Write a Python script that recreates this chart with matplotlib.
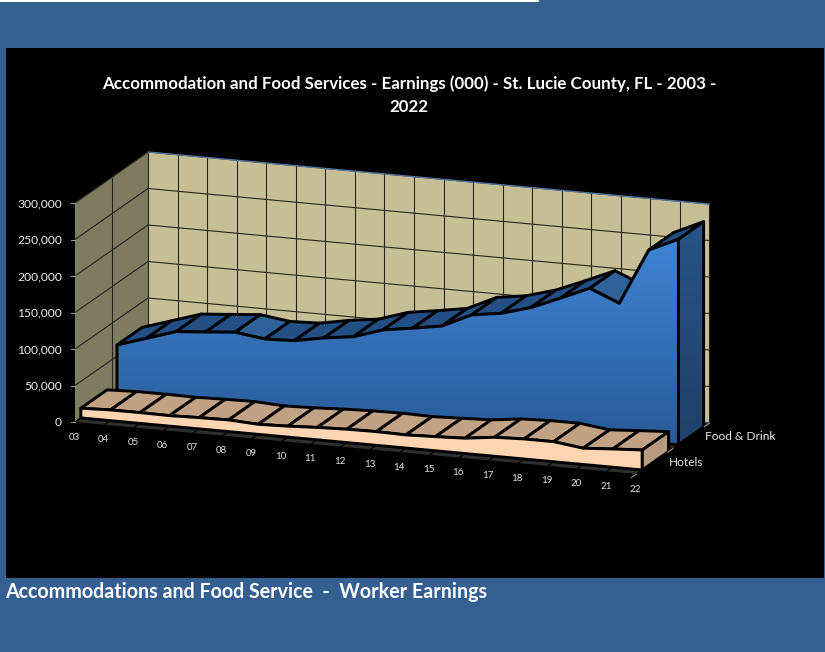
import numpy as np
import matplotlib
matplotlib.use('Agg')
import matplotlib.pyplot as plt
from matplotlib.colors import LinearSegmentedColormap
from matplotlib.patches import Polygon, Rectangle

# earnings in thousands of dollars
years = ['03', '04', '05', '06', '07', '08', '09', '10', '11', '12',
         '13', '14', '15', '16', '17', '18', '19', '20', '21', '22']
food_drink = [65.3, 78.2, 91.1, 94.4, 97.8, 92.3, 93.7, 101.2, 106.7, 119.7,
              125.8, 132.6, 151.5, 157.5, 169.0, 185.6, 203.0, 186.3, 263.0, 281.5]
hotels = [13.3, 14.7, 14.8, 14.4, 15.4, 16.0, 13.8, 15.0, 17.0, 18.3,
          18.8, 18.0, 19.4, 21.0, 26.0, 27.5, 27.5, 22.3, 25.0, 27.4]
value_ticks = [0, 50, 100, 150, 200, 250, 300]
series_names = ['Hotels', 'Food & Drink']

plt.rcParams['font.family'] = ['Lato', 'DejaVu Sans']

# oblique projection used by the 3d chart box, results are in pixels
ORIGIN = np.array([75.0, 422.0])
CAT_STEP = np.array([29.55, 2.74])
DEPTH_VEC = np.array([73.0, -51.0])
PX_PER_K = 0.73
EDGE_LW = 2.1


def project(cat, value, depth):
    x = ORIGIN[0] + cat * CAT_STEP[0] + depth * DEPTH_VEC[0]
    y = ORIGIN[1] + cat * CAT_STEP[1] + depth * DEPTH_VEC[1] - value * PX_PER_K
    return x, y


fig = plt.figure(figsize=(8.25, 6.52), dpi=100, facecolor='#365f91')
ax = fig.add_axes([0, 0, 1, 1])
ax.axis('off')

ax.add_patch(Rectangle((0, 0), 539, 1.5, fc='white', ec='none'))
ax.add_patch(Rectangle((6, 48), 818, 530, fc='black', ec='none'))

last = len(years) - 1
top = value_ticks[-1]

# walls and floor
ax.add_patch(Polygon([project(0, 0, 1), project(last, 0, 1), project(last, top, 1), project(0, top, 1)],
                     closed=True, fc='#c6bf95', ec='none', zorder=1))
ax.add_patch(Polygon([project(0, 0, 0), project(0, 0, 1), project(0, top, 1), project(0, top, 0)],
                     closed=True, fc='#7f7b60', ec='none', zorder=1))
ax.add_patch(Polygon([project(0, 0, 0), project(last, 0, 0), project(last, 0, 1), project(0, 0, 1)],
                     closed=True, fc='#2e2e2e', ec='none', zorder=1))

# gridlines
for v in value_ticks:
    xs, ys = zip(project(0, v, 0), project(0, v, 1), project(last, v, 1))
    ax.plot(xs, ys, color='#24241c', lw=0.8, zorder=2)
for i in range(last + 1):
    xs, ys = zip(project(i, 0, 1), project(i, top, 1))
    ax.plot(xs, ys, color='#24241c', lw=0.8, zorder=2)
    xs, ys = zip(project(i, 0, 0), project(i, 0, 1))
    ax.plot(xs, ys, color='black', lw=0.9, zorder=2)
xs, ys = zip(project(0, 0, 0.5), project(0, top, 0.5))
ax.plot(xs, ys, color='#24241c', lw=0.8, zorder=2)
xs, ys = zip(project(0, 0, 0.5), project(last, 0, 0.5))
ax.plot(xs, ys, color='black', lw=0.9, zorder=2)
xs, ys = zip(project(0, top, 1), project(last, top, 1))
ax.plot(xs, ys, color='#4f78ab', lw=0.9, zorder=2)

blue_map = LinearSegmentedColormap.from_list('front_blue', ['#4084d4', '#285a97'])
side_map = LinearSegmentedColormap.from_list('side_blue', ['#285487', '#1f4068'])


def gradient_poly(points, cmap, zorder):
    pts = np.array(points)
    poly = Polygon(pts, closed=True, fc='none', ec='none', zorder=zorder)
    ax.add_patch(poly)
    img = ax.imshow(np.linspace(0, 1, 256).reshape(-1, 1), cmap=cmap, aspect='auto',
                    extent=(pts[:, 0].min(), pts[:, 0].max(), pts[:, 1].max(), pts[:, 1].min()),
                    zorder=zorder)
    img.set_clip_path(poly)
    ax.add_patch(Polygon(pts, closed=True, fc='none', ec='black', lw=EDGE_LW, joinstyle='round', zorder=zorder + 0.1))


def top_faces(values, d_front, d_back, up_color, down_color, zorder):
    # the front face drawn afterwards hides whatever falls behind it
    for i in range(len(values) - 1):
        quad = [project(i, values[i], d_front), project(i + 1, values[i + 1], d_front),
                project(i + 1, values[i + 1], d_back), project(i, values[i], d_back)]
        color = up_color if values[i + 1] >= values[i] - 1 else down_color
        ax.add_patch(Polygon(quad, closed=True, fc=color, ec='black', lw=EDGE_LW, joinstyle='round', zorder=zorder))


def front_outline(values, depth):
    pts = [project(i, values[i], depth) for i in range(len(values))]
    return pts + [project(len(values) - 1, 0, depth), project(0, 0, depth)]


def side_outline(values, d_front, d_back):
    n = len(values) - 1
    return [project(n, values[-1], d_front), project(n, values[-1], d_back),
            project(n, 0, d_back), project(n, 0, d_front)]


# food & drink sits behind hotels
top_faces(food_drink, 0.575, 0.92, '#234f85', '#2f6299', 3)
gradient_poly(front_outline(food_drink, 0.575), blue_map, 4)
gradient_poly(side_outline(food_drink, 0.575, 0.92), side_map, 4)

top_faces(hotels, 0.08, 0.44, '#c2a284', '#c2a284', 5)
ax.add_patch(Polygon(front_outline(hotels, 0.08), closed=True, fc='#fdd5b3', ec='black',
                     lw=EDGE_LW, joinstyle='round', zorder=6))
ax.add_patch(Polygon(side_outline(hotels, 0.08, 0.44), closed=True, fc='#b59b82', ec='black',
                     lw=EDGE_LW, joinstyle='round', zorder=6))

# axis labels and tick marks
for v in value_ticks:
    x, y = project(0, v, 0)
    ax.plot([x - 4, x], [y, y], color='#9a9a9a', lw=0.8, zorder=7)
    ax.text(62, y + 0.5, f'{v * 1000:,}', color='#eeeeee', fontsize=8.7, ha='right', va='center')
for i, label in enumerate(years):
    x, y = project(i, 0, 0)
    ax.text(x - 1, y + 15, label, color='#e4e4e4', fontsize=7.0, ha='center', va='center')
for d in [0, 0.5, 1]:
    x, y = project(last, 0, d)
    ax.plot([x - 5, x], [y + 3.5, y], color='#9a9a9a', lw=0.8, zorder=7)
ax.text(669, 463, series_names[0], color='#e8e8e8', fontsize=8.6, ha='left', va='center')
ax.text(705, 437, series_names[1], color='#e8e8e8', fontsize=8.6, ha='left', va='center')

ax.text(409, 95, 'Accommodation and Food Services - Earnings (000) - St. Lucie County, FL - 2003 -\n2022',
        color='white', fontsize=12.2, fontweight='bold', ha='center', va='center', linespacing=1.5)
ax.text(5, 591.5, 'Accommodations and Food Service  -  Worker Earnings',
        color='white', fontsize=14.1, fontweight='bold', ha='left', va='center')

ax.set_xlim(0, 825)
ax.set_ylim(652, 0)

fig.savefig('out.png', dpi=100, facecolor=fig.get_facecolor())
